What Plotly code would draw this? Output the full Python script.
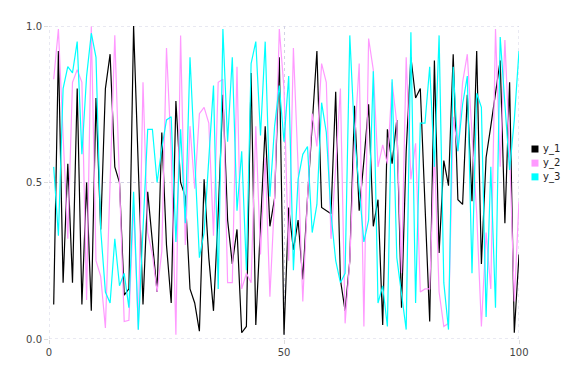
import plotly.graph_objects as go

x = list(range(1, 101))

y_1 = [0.11, 0.92, 0.18, 0.56, 0.18, 0.80, 0.11, 0.50, 0.09, 0.77,
       0.35, 0.80, 0.91, 0.55, 0.50, 0.14, 0.16, 1.00, 0.55, 0.11,
       0.47, 0.31, 0.15, 0.66, 0.30, 0.115, 0.76, 0.50, 0.455, 0.16,
       0.115, 0.025, 0.51, 0.26, 0.09, 0.40, 0.78, 0.38, 0.24, 0.35,
       0.02, 0.04, 0.85, 0.045, 0.35, 0.68, 0.36, 0.45, 0.90, 0.014,
       0.42, 0.285, 0.38, 0.19, 0.45, 0.70, 0.92, 0.42, 0.41, 0.40,
       0.79, 0.19, 0.09, 0.25, 0.745, 0.41, 0.57, 0.75, 0.36, 0.445,
       0.045, 0.67, 0.56, 0.70, 0.10, 0.60, 0.90, 0.77, 0.80, 0.45,
       0.056, 0.89, 0.275, 0.57, 0.49, 0.91, 0.445, 0.43, 0.78, 0.44,
       0.92, 0.24, 0.58, 0.68, 0.78, 0.89, 0.37, 0.82, 0.02, 0.27]

y_2 = [0.83, 0.99, 0.65, 0.32, 0.82, 0.86, 0.82, 0.125, 0.998, 0.25,
       0.20, 0.035, 0.50, 0.97, 0.50, 0.056, 0.06, 0.43, 0.03, 0.82,
       0.34, 0.27, 0.15, 0.28, 0.93, 0.60, 0.014, 0.97, 0.30, 0.68,
       0.48, 0.72, 0.74, 0.69, 0.33, 0.82, 0.83, 0.18, 0.18, 0.87,
       0.16, 0.21, 0.18, 0.68, 0.27, 0.58, 0.135, 0.45, 0.99, 0.80,
       0.25, 0.93, 0.55, 0.12, 0.45, 0.72, 0.615, 0.88, 0.82, 0.32,
       0.55, 0.80, 0.05, 0.25, 0.63, 0.88, 0.04, 0.96, 0.86, 0.55,
       0.62, 0.56, 0.82, 0.69, 0.21, 0.90, 0.51, 0.625, 0.15, 0.16,
       0.16, 0.60, 0.15, 0.04, 0.05, 0.71, 0.60, 0.82, 0.91, 0.65,
       0.40, 0.04, 0.34, 0.16, 0.99, 0.55, 0.955, 0.60, 0.12, 0.44]

y_3 = [0.55, 0.33, 0.80, 0.87, 0.85, 0.95, 0.59, 0.84, 0.977, 0.90,
       0.35, 0.15, 0.115, 0.32, 0.17, 0.21, 0.10, 0.47, 0.03, 0.33,
       0.67, 0.67, 0.50, 0.61, 0.70, 0.71, 0.31, 0.67, 0.37, 0.90,
       0.60, 0.26, 0.34, 0.59, 0.81, 0.16, 0.99, 0.63, 0.90, 0.41,
       0.60, 0.22, 0.88, 0.95, 0.65, 0.95, 0.455, 0.68, 0.81, 0.63,
       0.84, 0.22, 0.51, 0.59, 0.615, 0.34, 0.43, 0.755, 0.66, 0.40,
       0.25, 0.18, 0.21, 0.97, 0.65, 0.48, 0.31, 0.38, 0.855, 0.115,
       0.17, 0.04, 0.83, 0.26, 0.15, 0.03, 0.98, 0.115, 0.69, 0.69,
       0.87, 0.55, 0.97, 0.18, 0.03, 0.87, 0.60, 0.75, 0.84, 0.21,
       0.785, 0.74, 0.07, 0.55, 0.10, 0.965, 0.75, 0.54, 0.70, 0.92]

names = ["y_1", "y_2", "y_3"]
colors = ["#000000", "#ff99ff", "#00ffff"]
series = [y_1, y_2, y_3]

x_ticks = [0, 50, 100]
y_ticks = [0.0, 0.5, 1.0]

fig = go.Figure()
for name, col, ys in zip(names, colors, series):
    fig.add_trace(go.Scatter(x=x, y=ys, mode="lines", name=name,
                             line=dict(color=col, width=1.2),
                             showlegend=False))

grid = "#d2d2e4"
shapes = []
# edge grid lines (plotly omits grid lines on the range edges)
for xv in [x_ticks[0], x_ticks[-1]]:
    shapes.append(dict(type="line", xref="x", yref="paper", x0=xv, x1=xv,
                       y0=0, y1=1, line=dict(color=grid, width=1, dash="dot"),
                       layer="below"))
for yv in [y_ticks[0], y_ticks[-1]]:
    shapes.append(dict(type="line", xref="paper", yref="y", x0=0, x1=1,
                       y0=yv, y1=yv, line=dict(color=grid, width=1, dash="dot"),
                       layer="below"))

# legend built by hand for compact spacing
annotations = []
leg_y = [0.607, 0.562, 0.518]
for name, col, ly in zip(names, colors, leg_y):
    shapes.append(dict(type="rect", xref="paper", yref="paper",
                       xsizemode="pixel", ysizemode="pixel",
                       xanchor=1.034, yanchor=ly, x0=-3.5, x1=3.5, y0=-3.5, y1=3.5,
                       fillcolor=col, line=dict(width=0)))
    annotations.append(dict(xref="paper", yref="paper", x=1.046, y=ly,
                            xanchor="left", yanchor="middle", text=name,
                            showarrow=False, font=dict(size=10, color="#222222")))

fig.update_layout(
    width=576, height=384,
    margin=dict(l=41, r=65, t=18, b=53, autoexpand=False),
    paper_bgcolor="white", plot_bgcolor="white",
    showlegend=False,
    font=dict(family="DejaVu Sans", size=10, color="#444444"),
    shapes=shapes, annotations=annotations,
    xaxis=dict(range=[0, 100], tickvals=x_ticks, showgrid=True,
               gridcolor=grid, griddash="dot", gridwidth=1,
               zeroline=False, showline=False, ticks="outside",
               ticklen=4, tickcolor="#dddddd"),
    yaxis=dict(range=[0, 1], tickvals=y_ticks, tickformat=".1f",
               showgrid=True, gridcolor=grid, griddash="dot", gridwidth=1,
               zeroline=False, showline=False, ticks="outside",
               ticklen=4, tickcolor="#dddddd"),
)
fig.write_html("out.html")
